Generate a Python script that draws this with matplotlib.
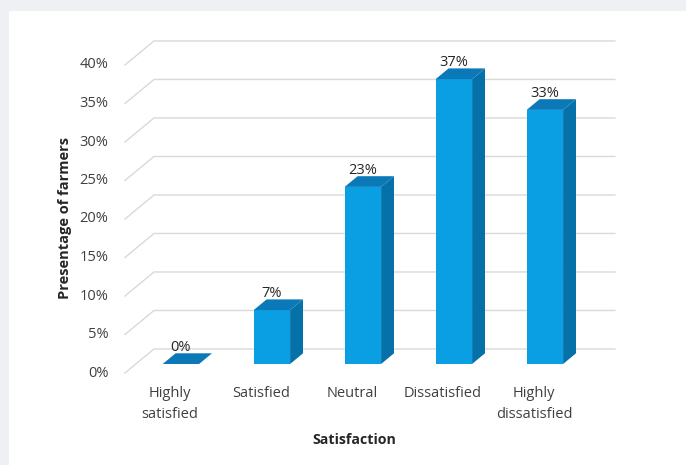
import matplotlib
matplotlib.use("Agg")
import matplotlib.pyplot as plt
from matplotlib.patches import Polygon, Rectangle

# Farmer satisfaction survey
categories = ["Highly\nsatisfied", "Satisfied", "Neutral", "Dissatisfied", "Highly\ndissatisfied"]
values = [0, 7, 23, 37, 33]
y_ticks = [0, 5, 10, 15, 20, 25, 30, 35, 40]

FRONT = "#0a9fe3"
SIDE = "#0670a8"
TOP = "#0b78b8"
GRID = "#d9d9d9"
TEXT = "#404040"

# oblique projection: depth d in [0, 1] shifts right and up
DX = 0.319      # category units per unit depth
DY = 3.12       # value units per unit depth
BAR_W = 0.40
D0, D1 = 0.375, 0.82
X_WALL0, X_WALL1 = -0.495, 4.57


def proj(x, v, d):
    return (x + d * DX, v + d * DY)


plt.rcParams["font.family"] = ["Open Sans", "DejaVu Sans"]

W, H = 686, 465
fig = plt.figure(figsize=(W / 100, H / 100), dpi=100)
fig.patch.set_facecolor("#eef0f3")
fig.patches.append(Rectangle((9 / W, 0), 1, 1 - 11 / H, transform=fig.transFigure,
                             facecolor="white", edgecolor="none", zorder=-1))

ax = fig.add_axes([100 / W, (H - 380) / H, 540 / W, 360 / H])
ax.set_zorder(1)
ax.set_xlim((100 - 170) / 91, (640 - 170) / 91)
ax.set_ylim((373 - 380) / 7.7, (373 - 20) / 7.7)
ax.axis("off")
ax.patch.set_alpha(0)

# side wall diagonals and back wall gridlines
for t in y_ticks:
    pts = [proj(X_WALL0, t, 0), proj(X_WALL0, t, 1), proj(X_WALL1, t, 1)]
    ax.plot([p[0] for p in pts], [p[1] for p in pts], color=GRID, lw=1.0, zorder=1)
    fx, fy = proj(X_WALL0, t, 0)
    ax.annotate(f"{t}%", (fx, fy), xytext=(-12, 0), textcoords="offset points",
                ha="right", va="center", fontsize=10.5, color=TEXT)

# 3D-looking bars
for i, v in enumerate(values):
    xl, xr = i - BAR_W / 2, i + BAR_W / 2
    front = [proj(xl, 0, D0), proj(xr, 0, D0), proj(xr, v, D0), proj(xl, v, D0)]
    side = [proj(xr, 0, D0), proj(xr, 0, D1), proj(xr, v, D1), proj(xr, v, D0)]
    top = [proj(xl, v, D0), proj(xr, v, D0), proj(xr, v, D1), proj(xl, v, D1)]
    if v > 0:
        ax.add_patch(Polygon(side, closed=True, facecolor=SIDE, edgecolor="none", zorder=3))
        ax.add_patch(Polygon(front, closed=True, facecolor=FRONT, edgecolor="none", zorder=3))
    ax.add_patch(Polygon(top, closed=True, facecolor=TOP, edgecolor="none", zorder=3))
    lx, ly = proj(i, v, D1)
    ax.annotate(f"{v}%", (i + DX * D0, ly), xytext=(0, -1), textcoords="offset points",
                ha="center", va="bottom", fontsize=10.5, color="#262626", zorder=4)

# category labels along the floor front
for i, c in enumerate(categories):
    ax.annotate(c, (i, 0), xytext=(0, -9), textcoords="offset points",
                ha="center", va="top", fontsize=10.5, color=TEXT, linespacing=1.6)

fig.text(354 / W, 1 - 440 / H, "Satisfaction", ha="center", va="center",
         fontsize=10.2, fontweight="bold", color="#262626")
fig.text(65 / W, 1 - 218 / H, "Presentage of farmers", ha="center", va="center",
         rotation=90, fontsize=10.5, fontweight="bold", color="#262626")

fig.savefig("out.png", dpi=100)
